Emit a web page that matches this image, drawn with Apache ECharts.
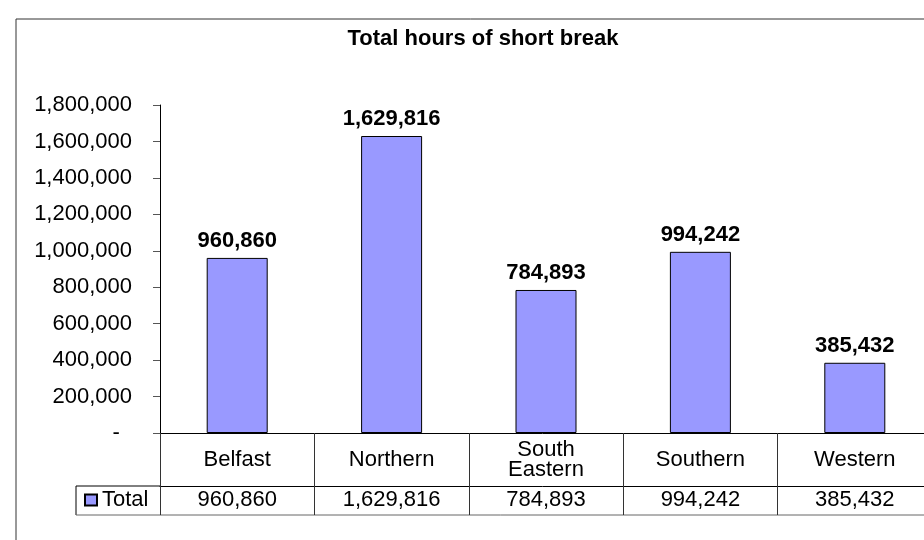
<!DOCTYPE html>
<html>
<head>
<meta charset="utf-8">
<script src="https://cdn.jsdelivr.net/npm/echarts@6/dist/echarts.min.js"></script>
<style>
  html, body { margin: 0; padding: 0; background: #fff; }
  #main { width: 924px; height: 540px; }
</style>
</head>
<body>
<div id="main"></div>
<script>
var chartTitle = 'Total hours of short break'
var seriesName = 'Total'
var regions = ['Belfast', 'Northern', 'South\nEastern', 'Southern', 'Western']
var hours = [960860, 1629816, 784893, 994242, 385432]
var yMax = 1800000
var yStep = 200000

var FONT = 'Liberation Sans, Arial, sans-serif'

// plot box (it runs past the right edge, the data table hangs under it)
var gLeft = 160, gTop = 105, gWidth = 772, gHeight = 328
var axisY = gTop + gHeight     // 433
var rowY = axisY + 53          // line between the two table rows
var tableBottom = axisY + 82
var tableRight = gLeft + gWidth
var legendCellLeft = 76

function fmt(v) {
  return v.toLocaleString('en-US')
}

var chart = echarts.init(document.getElementById('main'), null, { renderer: 'canvas' })

var option = {
  backgroundColor: '#fff',
  animation: false,
  title: {
    text: chartTitle,
    left: 478,
    textAlign: 'center',
    top: 23,
    textStyle: { fontFamily: FONT, fontSize: 22, fontWeight: 'bold', color: '#000' }
  },
  legend: {
    data: [seriesName],
    left: 84,
    top: 489,
    padding: 0,
    itemWidth: 12,
    itemHeight: 11,
    itemGap: 0,
    itemTextGap: 6,
    icon: 'rect',
    textStyle: { fontFamily: FONT, fontSize: 22, color: '#000' }
  },
  grid: {
    left: gLeft, top: gTop, width: gWidth, height: gHeight,
    containLabel: false, outerBoundsMode: 'none'
  },
  xAxis: [{
    type: 'category',
    data: regions,
    position: 'bottom',
    boundaryGap: true,
    axisLine: { show: true, lineStyle: { color: '#000', width: 1 } },
    axisTick: { show: true, length: 82, lineStyle: { color: '#333', width: 1 } },
    axisLabel: {
      fontFamily: FONT, fontSize: 22, color: '#000',
      margin: 27, verticalAlign: 'middle', lineHeight: 20, interval: 0
    }
  }, {
    type: 'category',
    data: hours.map(fmt),
    position: 'bottom',
    offset: 53,
    axisLine: { show: true, lineStyle: { color: '#000', width: 1 } },
    axisTick: { show: false },
    axisLabel: {
      fontFamily: FONT, fontSize: 22, color: '#000',
      margin: 14, verticalAlign: 'middle', interval: 0
    }
  }],
  yAxis: {
    type: 'value',
    min: 0,
    max: yMax,
    interval: yStep,
    splitLine: { show: false },
    axisLine: { show: true, lineStyle: { color: '#000', width: 1 } },
    axisTick: { show: true, length: 7, lineStyle: { color: '#555' } },
    axisLabel: {
      fontFamily: FONT, fontSize: 22, color: '#000', margin: 28,
      formatter: function (v) { return v === 0 ? '-\u00a0\u00a0' : fmt(v) }
    }
  },
  series: [{
    name: seriesName,
    type: 'bar',
    data: hours,
    barWidth: 61,
    itemStyle: { color: '#9999FF', borderColor: '#000', borderWidth: 1 },
    label: {
      show: true,
      position: 'top',
      distance: 6,
      fontFamily: FONT, fontSize: 22, fontWeight: 'bold', color: '#000',
      formatter: function (p) { return fmt(p.value) }
    }
  }],
  graphic: [
    // chart frame
    { type: 'rect', silent: true, shape: { x: 16, y: 19, width: 1000, height: 600 },
      style: { fill: 'none', stroke: '#333', lineWidth: 1 } },
    // legend cell of the data table
    { type: 'line', silent: true, shape: { x1: legendCellLeft, y1: rowY, x2: gLeft, y2: rowY },
      style: { stroke: '#000', lineWidth: 1 } },
    { type: 'line', silent: true, shape: { x1: legendCellLeft, y1: rowY, x2: legendCellLeft, y2: tableBottom },
      style: { stroke: '#000', lineWidth: 1 } },
    { type: 'line', silent: true, shape: { x1: legendCellLeft, y1: tableBottom, x2: tableRight, y2: tableBottom },
      style: { stroke: '#666', lineWidth: 1 } }
  ]
}

chart.setOption(option)
</script>
</body>
</html>
